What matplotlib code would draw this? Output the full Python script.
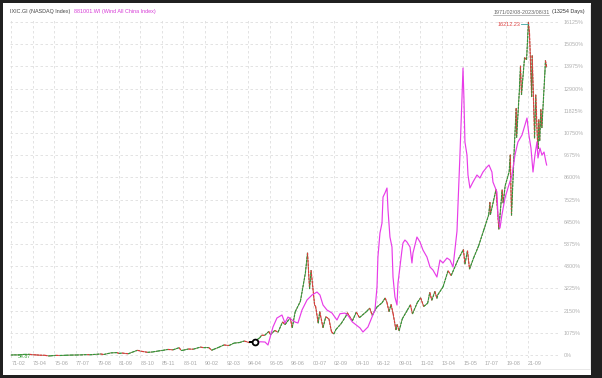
import numpy as np
import matplotlib
matplotlib.use('Agg')
import matplotlib.pyplot as plt
from matplotlib.collections import LineCollection
from matplotlib.patches import Rectangle
from matplotlib.lines import Line2D

# ---------------- data ----------------
x_labels = ["71-02", "73-04", "75-06", "77-07", "79-08", "81-09", "83-10", "85-11",
            "88-01", "90-02", "92-03", "94-04", "96-05", "98-06", "00-07", "02-09",
            "04-10", "06-12", "09-01", "11-02", "13-04", "15-05", "17-07", "19-08", "21-09"]
y_ticks = [0, 1075, 2150, 3225, 4300, 5375, 6450, 7525, 8600, 9675,
           10750, 11825, 12900, 13975, 15050, 16125]

# NASDAQ Composite (index points), base 100
nasdaq_year = [1971.10, 1971.40, 1971.90, 1972.40, 1972.90, 1973.30, 1973.60, 1973.90, 1974.40, 1974.77,
               1975.00, 1975.50, 1975.90, 1976.50, 1976.99, 1977.50, 1977.90, 1978.60, 1978.80, 1979.50,
               1979.90, 1980.20, 1980.90, 1981.50, 1981.70, 1982.00, 1982.60, 1982.99, 1983.50, 1983.90,
               1984.50, 1984.99, 1985.50, 1985.99, 1986.50, 1986.99, 1987.60, 1987.80, 1987.99, 1988.50,
               1988.99, 1989.70, 1989.99, 1990.50, 1990.80, 1990.99, 1991.50, 1991.99, 1992.50, 1992.99,
               1993.50, 1993.99, 1994.50, 1994.99, 1995.50, 1995.70, 1995.99, 1996.40, 1996.55, 1996.99,
               1997.30, 1997.75, 1997.99, 1998.50, 1998.70, 1998.99, 1999.50, 1999.99, 2000.20, 2000.40,
               2000.55, 2000.90, 2000.99, 2001.25, 2001.40, 2001.72, 2001.99, 2002.30, 2002.55, 2002.78,
               2002.99, 2003.50, 2003.99, 2004.10, 2004.60, 2004.99, 2005.30, 2005.99, 2006.30, 2006.55,
               2006.99, 2007.50, 2007.82, 2007.99, 2008.20, 2008.40, 2008.60, 2008.88, 2008.99, 2009.19,
               2009.50, 2009.99, 2010.30, 2010.50, 2010.99, 2011.30, 2011.60, 2011.99, 2012.20, 2012.40,
               2012.70, 2012.90, 2012.99, 2013.50, 2013.99, 2014.30, 2014.99, 2015.50, 2015.65, 2015.90,
               2016.10, 2016.50, 2016.99, 2017.50, 2017.99, 2018.10, 2018.15, 2018.70, 2018.98, 2019.30,
               2019.40, 2019.60, 2019.99, 2020.10, 2020.22, 2020.50, 2020.68, 2020.72, 2020.99, 2021.10,
               2021.20, 2021.50, 2021.70, 2021.88, 2021.99, 2022.20, 2022.25, 2022.45, 2022.48, 2022.60,
               2022.78, 2022.83, 2022.90, 2022.99, 2023.10, 2023.20, 2023.50, 2023.55, 2023.67]
nasdaq_value = [100, 105, 107, 130, 133, 110, 105, 92, 88, 54.87,
                60, 83, 77, 90, 97, 100, 105, 120, 110, 135,
                150, 125, 202, 215, 175, 195, 160, 232, 328, 280,
                230, 247, 290, 325, 370, 349, 455, 320, 330, 390,
                381, 485, 454, 460, 330, 374, 475, 586, 560, 677,
                700, 777, 700, 752, 930, 1060, 1052, 1240, 1080, 1291,
                1200, 1700, 1570, 1900, 1420, 2193, 2700, 4069, 5048, 3300,
                4200, 2500, 2470, 1640, 2200, 1423, 1950, 1850, 1230, 1114,
                1335, 1620, 2003, 2150, 1750, 2175, 1910, 2205, 2370, 2020,
                2415, 2620, 2860, 2652, 2200, 2550, 2100, 1316, 1577, 1268,
                1850, 2269, 2530, 2090, 2653, 2870, 2450, 2605, 3130, 2750,
                3180, 2840, 3020, 3400, 4177, 3950, 4736, 5210, 4500, 5150,
                4260, 4800, 5383, 6150, 6903, 7500, 6900, 8110, 6190, 8100,
                7450, 8300, 8973, 9800, 6860, 10200, 12050, 10630, 12888, 14100,
                12700, 14500, 14400, 16212.23, 15645, 12600, 14600, 11300, 10600, 12700,
                10300, 10090, 11500, 10466, 12000, 11100, 13800, 14360, 14034]

# Wind All China Index, rescaled to the chart's % axis
wind_year = [1995.05, 1995.60, 1996.03, 1996.32, 1996.81, 1997.20, 1997.69, 1997.99, 1998.28, 1998.68,
             1998.97, 1999.26, 1999.66, 2000.15, 2000.64, 2001.13, 2001.42, 2001.72, 2002.11, 2002.60,
             2003.09, 2003.39, 2003.88, 2004.20, 2004.60, 2005.35, 2005.64, 2006.13, 2006.53, 2006.82,
             2007.02, 2007.11, 2007.31, 2007.51, 2007.61, 2007.80, 2008.00, 2008.10, 2008.29, 2008.49,
             2008.59, 2008.78, 2008.98, 2009.08, 2009.27, 2009.47, 2009.57, 2009.76, 2009.96, 2010.26,
             2010.45, 2010.55, 2010.94, 2011.24, 2011.53, 2011.92, 2012.22, 2012.51, 2012.90, 2013.20,
             2013.49, 2013.89, 2014.18, 2014.48, 2014.87, 2014.97, 2015.16, 2015.36, 2015.46, 2015.55,
             2015.65, 2015.85, 2015.95, 2016.14, 2016.44, 2016.83, 2017.12, 2017.42, 2017.81, 2018.01,
             2018.30, 2018.40, 2018.79, 2018.89, 2019.09, 2019.28, 2019.58, 2019.87, 2020.27, 2020.56,
             2020.85, 2021.25, 2021.54, 2021.74, 2021.93, 2022.13, 2022.33, 2022.52, 2022.72, 2022.82,
             2023.01, 2023.21, 2023.41, 2023.60, 2023.67]
wind_pct = [629, 640, 629, 484, 1356, 1792, 1937, 1549, 1840, 1695,
            1598, 1549, 2179, 2663, 2905, 3050, 2905, 2421, 2179, 2034,
            1695, 2000, 2030, 1900, 1600, 1310, 1114, 1356, 1840, 2179,
            3293, 4745, 5907, 6391, 7650, 7844, 8086, 7021, 5714, 5229,
            3777, 2808, 2421, 3486, 4261, 5084, 5423, 5568, 5471, 5229,
            4455, 4939, 5714, 5471, 5084, 4745, 4261, 4116, 3777, 4600,
            4455, 4697, 4600, 4261, 6000, 7300, 9684, 12444, 13897, 12444,
            10313, 9684, 8716, 8086, 8377, 8716, 8570, 8861, 9103, 9200,
            8861, 8377, 7892, 6779, 6149, 6779, 7602, 8086, 8716, 9684,
            10313, 10652, 11137, 11476, 10652, 10023, 8861, 9684, 10313, 9539,
            10023, 9684, 9829, 9345, 9200]

# ---------------- figure ----------------
W, H = 602, 378
fig = plt.figure(figsize=(W / 100, H / 100), dpi=100)
fig.patch.set_facecolor('#202020')
fig.add_artist(Rectangle((3 / W, 3 / H), 588 / W, 372 / H, transform=fig.transFigure,
                         facecolor='white', edgecolor='none', zorder=0))
# light panel border (right & bottom)
fig.add_artist(Line2D([10 / W, 590 / W], [1 - 369 / H, 1 - 369 / H], transform=fig.transFigure,
                      color='#e4e4e4', lw=0.6))
fig.add_artist(Line2D([590 / W, 590 / W], [1 - 369 / H, 1 - 5 / H], transform=fig.transFigure,
                      color='#e4e4e4', lw=0.6))

ax = fig.add_axes([10 / W, 1 - 358 / H, 550 / W, 340 / H])
ax.set_facecolor('none')

FONT = 'Liberation Sans'

def lab_year(s):
    yy, mm = int(s[:2]), int(s[3:])
    return (1900 + yy if yy >= 50 else 2000 + yy) + (mm - 0.5) / 12

xt = np.linspace(lab_year(x_labels[0]), lab_year(x_labels[-1]) + 0.12, len(x_labels))

nx = np.array(nasdaq_year)
npct = np.array(nasdaq_value) - 100.0

# NASDAQ drawn as up/down coloured segments
pts = np.column_stack([nx, npct])
segs = [pts[i:i + 2] for i in range(len(pts) - 1)]
cols = ['#2f9a3a' if npct[i + 1] >= npct[i] else '#e0393b' for i in range(len(pts) - 1)]
ax.plot(nx, npct, color='#7a5a30', lw=0.5, zorder=2)
ax.add_collection(LineCollection(segs, colors=cols, linewidths=0.85, linestyles=(0, (2.2, 0.8)), zorder=3))

# Wind All China
ax.plot(wind_year, wind_pct, color='#e83ce8', lw=0.85, zorder=4)
ax.plot([wind_year[0] - 0.5, wind_year[0]], [wind_pct[0], wind_pct[0]], color='black', lw=1.4, zorder=5)
ax.plot(wind_year[0], wind_pct[0], 'o', mfc='white', mec='black', mew=1.3, ms=4.2, zorder=6)

# max / min annotations
imax = int(np.argmax(npct))
ax.plot([nx[imax] - 0.75, nx[imax]], [npct[imax] - 90, npct[imax] - 90], color='#3aa6a0', lw=0.6, zorder=5)
ax.text(nx[imax] - 0.8, npct[imax] - 90, f"{nasdaq_value[imax]:.2f}", color='#e04848',
        fontsize=4.0, family=FONT, ha='right', va='center')
imin = int(np.argmin(npct))
ax.text(1971.8, npct[imin] - 20, f"{nasdaq_value[imin]:.2f}", color='#3aa03a',
        fontsize=3.8, family=FONT, ha='left', va='center')

ax.set_xlim(1971.0, 2024.98)
ax.set_ylim(-145, 16319)
ax.set_xticks(xt)
ax.set_xticklabels(x_labels, ha='left')
ax.set_yticks(y_ticks)
ax.set_yticklabels([f"{v}%" for v in y_ticks])
ax.yaxis.tick_right()
ax.tick_params(axis='x', length=0, pad=2.0, labelsize=3.9, labelcolor='#a8a8a8')
ax.tick_params(axis='y', length=0, pad=2.5, labelsize=3.9, labelcolor='#b0b0b0')
for t in ax.get_xticklabels() + ax.get_yticklabels():
    t.set_family(FONT)
ax.grid(True, color='#dedede', lw=0.6, ls=(0, (3, 3)))
ax.set_axisbelow(True)
for s in ax.spines.values():
    s.set_visible(False)

# header texts
renderer = fig.canvas.get_renderer()
t1 = fig.text(10 / W, 1 - 12 / H, "IXIC.GI (NASDAQ Index)", color='#444444', fontsize=3.9,
              family=FONT, va='center', ha='left')
bb = t1.get_window_extent(renderer)
fig.text((bb.x1 + 4) / W, 1 - 12 / H, "881001.WI (Wind All China Index)", color='#d63ad6',
         fontsize=3.9, family=FONT, va='center', ha='left')
t3 = fig.text(585 / W, 1 - 12 / H, "(13254 Days)", color='#333333', fontsize=3.9,
              family=FONT, va='center', ha='right')
bb3 = t3.get_window_extent(renderer)
t2 = fig.text((bb3.x0 - 3) / W, 1 - 12 / H, "1971/02/08-2023/08/31", color='#666666', fontsize=3.9,
              family=FONT, va='center', ha='right')
bb2 = t2.get_window_extent(renderer)
fig.add_artist(Line2D([bb2.x0 / W, bb2.x1 / W], [1 - 15 / H, 1 - 15 / H], transform=fig.transFigure,
                      color='#888888', lw=0.4))

fig.savefig('out.png', dpi=100, facecolor=fig.get_facecolor())
